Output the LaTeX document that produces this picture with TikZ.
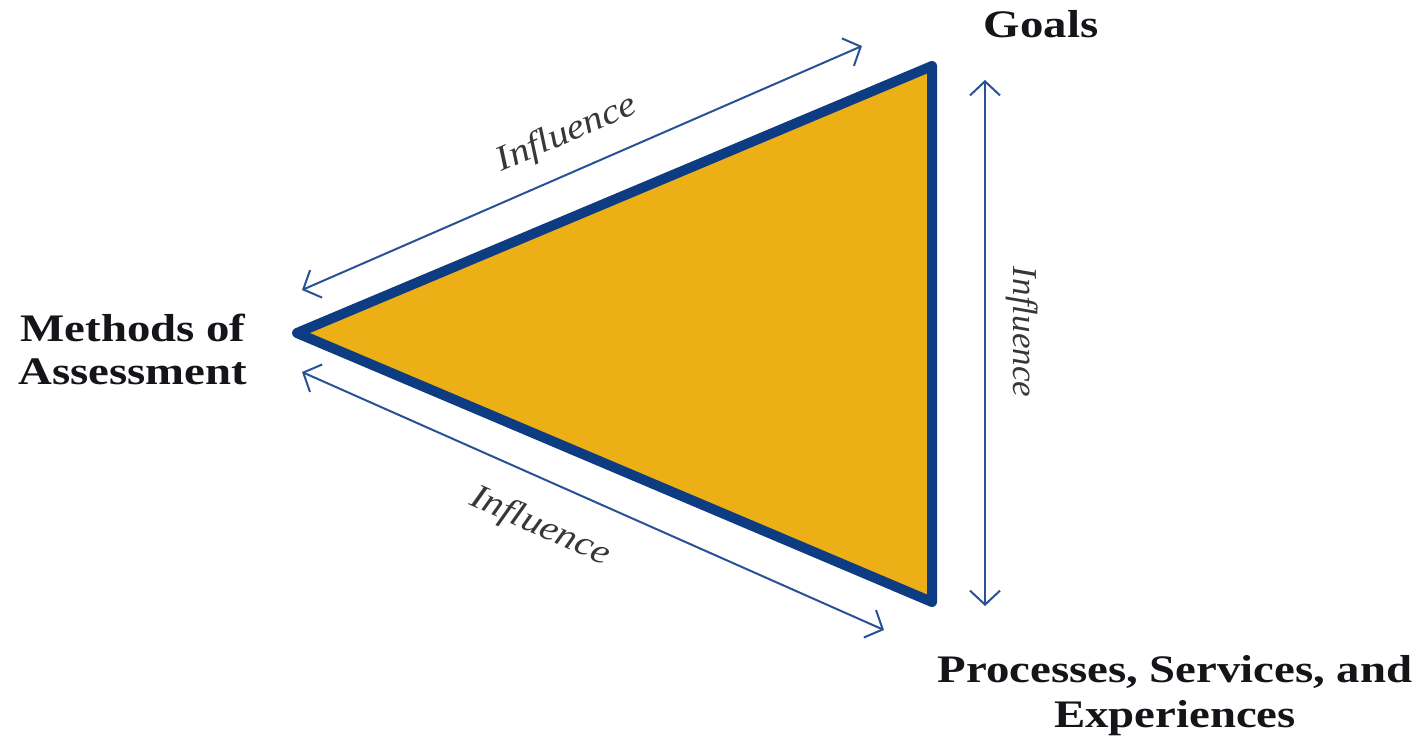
\documentclass[tikz,border=0pt]{standalone}
\usepackage{fontspec}
\setmainfont{Liberation Serif}
\newfontface\widebold{Liberation Serif Bold}[FakeStretch=1.2]
\newfontface\wideital{Liberation Serif Italic}[FakeStretch=1.15]
\usetikzlibrary{arrows.meta}
\definecolor{gold}{RGB}{236,176,22}
\definecolor{navy}{RGB}{14,60,130}
\definecolor{arrowblue}{RGB}{40,82,150}
\definecolor{txt}{RGB}{20,20,25}
\tikzset{
  corner/.style={font=\widebold\fontsize{39}{45}\selectfont, text=txt, inner sep=0pt},
  inflabel/.style={font=\wideital\fontsize{35}{40}\selectfont, text=txt!85, inner sep=0pt},
  vinflabel/.style={font=\itshape\fontsize{35}{40}\selectfont, text=txt!85, inner sep=0pt},
  infarrow/.style={draw=arrowblue, line width=2pt, {Straight Barb[length=14pt,width=30pt,line width=2pt]}-{Straight Barb[length=14pt,width=30pt,line width=2pt]}},
  tri/.style={draw=navy, fill=gold, line width=10pt, line join=round}
}
\begin{document}
\begin{tikzpicture}[x=1pt,y=-1pt]
\useasboundingbox (0,0) rectangle (1422,736);
\coordinate (L) at (297,333);
\coordinate (T) at (932,66);
\coordinate (B) at (932,602);
\draw[tri] (L) -- (T) -- (B) -- cycle;
% arrow ends
\coordinate (a1) at (302,290);
\coordinate (a2) at (862,46);
\coordinate (b1) at (985,80);
\coordinate (b2) at (985,606);
\coordinate (c1) at (302,372);
\coordinate (c2) at (884,630);
\draw[infarrow] (a1) -- (a2);
\draw[infarrow] (b1) -- (b2);
\draw[infarrow] (c1) -- (c2);
% labels
\node[corner, anchor=base] (goals) at (1041,37) {Goals};
\node[corner, anchor=base] (methods) at (133,341) {Methods of};
\node[corner, anchor=base] (assess) at (133,384) {Assessment};
\node[corner, anchor=base] (proc) at (1175,682) {Processes, Services, and};
\node[corner, anchor=base] (exp) at (1175,727) {Experiences};
\node[inflabel, rotate=23.5] (i1) at (567,134) {Influence};
\node[vinflabel, rotate=-90] (i2) at (1022,332) {Influence};
\node[inflabel, rotate=-24] (i3) at (540,527) {Influence};
\end{tikzpicture}
\end{document}
